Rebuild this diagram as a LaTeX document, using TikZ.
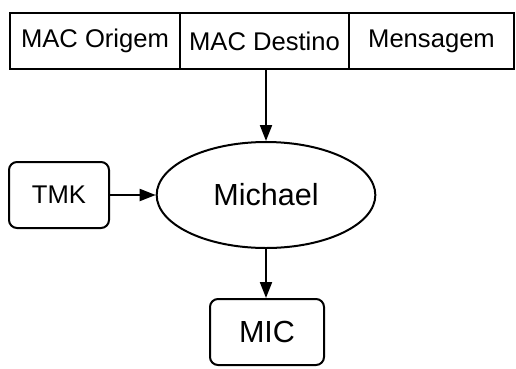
\documentclass[tikz,border=0pt]{standalone}
\usepackage{fontspec}
\setmainfont{Liberation Sans}
\usepackage{tikz}
\usetikzlibrary{shapes}
\usetikzlibrary{positioning}
\usetikzlibrary{arrows.meta}

\begin{document}
\begin{tikzpicture}[
	x=0.75pt,y=-0.75pt,
  line width=1.5pt,
  >={Triangle[length=12pt,width=9pt]},
  field/.style={rectangle,draw,minimum height=42pt,inner sep=0pt,outer sep=0pt,font=\fontsize{19.2}{23}\selectfont},
  rbox/.style={rectangle,draw,rounded corners=6pt,minimum height=49.5pt,inner sep=0pt}]
  \useasboundingbox (0,0) rectangle (516,368);
  \node[field,minimum width=127.5pt] (origem) at (95,41) {MAC Origem};
  \node[field,minimum width=126.75pt,right=0pt of origem] (destino) {MAC Destino};
  \node[field,minimum width=123.75pt,right=0pt of destino] (mensagem) {Mensagem};
  \node[ellipse,draw,minimum width=164pt,minimum height=79.5pt,inner sep=0pt,
    font=\fontsize{22.9}{27}\selectfont] (michael) at (266,195) {Michael};
  \node[rbox,minimum width=75pt,font=\fontsize{19.2}{23}\selectfont] (tmk) at (59,195) {TMK};
  \node[rbox,minimum width=85.5pt,font=\fontsize{22.9}{27}\selectfont] (mic) at (267,332) {MIC};
  \draw[->] (destino.south -| michael.north) -- (michael.north);
  \draw[->] (tmk) -- (michael);
  \draw[->] (michael.south) -- (michael.south |- mic.north);
\end{tikzpicture}
\end{document}
